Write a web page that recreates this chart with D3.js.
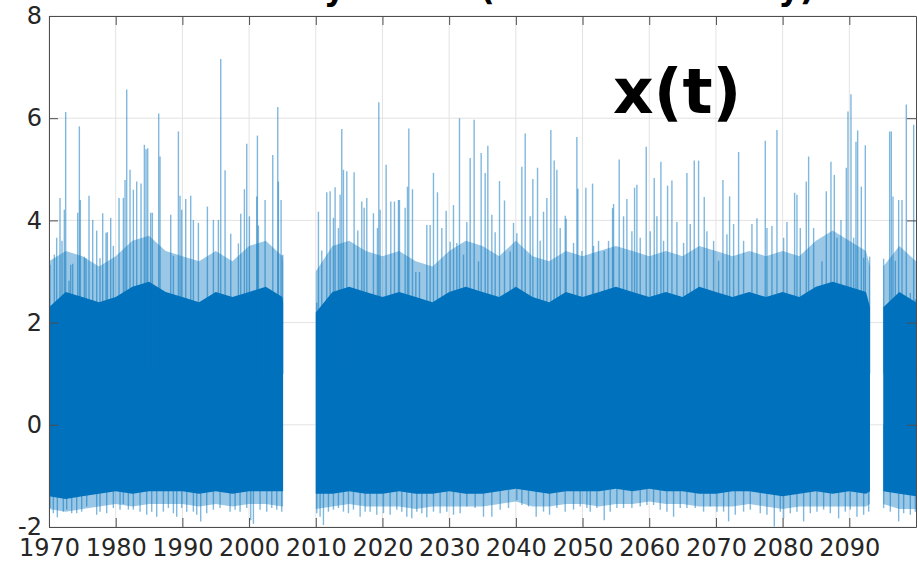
<!DOCTYPE html>
<html>
<head>
<meta charset="utf-8">
<script src="https://cdn.jsdelivr.net/npm/d3@7"></script>
<style>
  html, body { margin: 0; padding: 0; background: #fff; }
  svg { display: block; font-family: "DejaVu Sans", sans-serif; }
</style>
</head>
<body>
<svg id="chart" width="918" height="561"></svg>
<script>
// data segments (years with observations)
const segStart = [1970, 2010, 2095.1];
const segEnd = [2005.1, 2093.1, 2100];

// dense body of the series, read every 2.5 years
const bandYears = [1970, 1972.5, 1975, 1977.5, 1980, 1982.5, 1985, 1987.5, 1990, 1992.5, 1995, 1997.5, 2000, 2002.5, 2005, 2005.1,
  2010, 2012.5, 2015, 2017.5, 2020, 2022.5, 2025, 2027.5, 2030, 2032.5, 2035, 2037.5, 2040, 2042.5, 2045, 2047.5,
  2050, 2052.5, 2055, 2057.5, 2060, 2062.5, 2065, 2067.5, 2070, 2072.5, 2075, 2077.5, 2080, 2082.5, 2085, 2087.5,
  2090, 2092.5, 2093.1,
  2095.1, 2097.5, 2100];
const bandTop = [2.3, 2.6, 2.5, 2.4, 2.5, 2.7, 2.8, 2.6, 2.5, 2.4, 2.6, 2.5, 2.6, 2.7, 2.5, 2.4,
  2.2, 2.6, 2.7, 2.6, 2.5, 2.6, 2.5, 2.4, 2.6, 2.7, 2.6, 2.5, 2.7, 2.5, 2.4, 2.6,
  2.5, 2.6, 2.7, 2.6, 2.5, 2.6, 2.5, 2.7, 2.6, 2.5, 2.6, 2.5, 2.6, 2.5, 2.7, 2.8,
  2.7, 2.6, 2.3,
  2.3, 2.6, 2.4];
const fringeTop = [3.2, 3.4, 3.3, 3.1, 3.3, 3.6, 3.7, 3.4, 3.3, 3.2, 3.4, 3.2, 3.5, 3.6, 3.3, 3.2,
  3.0, 3.5, 3.6, 3.4, 3.3, 3.4, 3.2, 3.1, 3.4, 3.6, 3.5, 3.3, 3.6, 3.3, 3.2, 3.4,
  3.3, 3.4, 3.5, 3.4, 3.3, 3.4, 3.3, 3.5, 3.4, 3.3, 3.4, 3.3, 3.4, 3.3, 3.6, 3.8,
  3.6, 3.4, 3.1,
  3.1, 3.5, 3.2];
const bandBottom = [-1.4, -1.45, -1.4, -1.35, -1.3, -1.35, -1.3, -1.3, -1.3, -1.35, -1.3, -1.35, -1.3, -1.3, -1.3, -1.3,
  -1.35, -1.35, -1.3, -1.35, -1.35, -1.3, -1.35, -1.35, -1.3, -1.35, -1.35, -1.3, -1.25, -1.3, -1.35, -1.3,
  -1.3, -1.3, -1.25, -1.3, -1.25, -1.3, -1.3, -1.35, -1.35, -1.3, -1.3, -1.35, -1.4, -1.35, -1.3, -1.35,
  -1.3, -1.35, -1.3,
  -1.3, -1.35, -1.4];
const fringeBottom = [-1.65, -1.7, -1.65, -1.6, -1.55, -1.6, -1.55, -1.55, -1.55, -1.6, -1.55, -1.6, -1.55, -1.55, -1.6, -1.6,
  -1.65, -1.6, -1.55, -1.6, -1.6, -1.6, -1.65, -1.6, -1.6, -1.6, -1.6, -1.55, -1.5, -1.6, -1.6, -1.55,
  -1.55, -1.6, -1.55, -1.55, -1.5, -1.55, -1.55, -1.6, -1.6, -1.6, -1.55, -1.6, -1.65, -1.6, -1.6, -1.6,
  -1.6, -1.6, -1.55,
  -1.55, -1.65, -1.65];

// upward extremes
const peakYears = [1970.15, 1970.8, 1971.15, 1971.65, 1971.95, 1972.3, 1972.5, 1973.0, 1973.25, 1973.55,
  1974.3, 1974.55, 1974.7, 1975.3, 1975.55, 1976.0, 1976.55, 1977.15, 1977.65, 1978.05,
  1978.55, 1978.75, 1979.25, 1979.65, 1980.5, 1981.15, 1981.4, 1981.65, 1982.15, 1982.65,
  1983.15, 1983.8, 1984.3, 1984.55, 1984.8, 1985.25, 1985.5, 1986.45, 1986.65, 1988.25,
  1988.65, 1989.4, 1989.65, 1989.9, 1990.5, 1991.25, 1991.65, 1992.4, 1993.75, 1994.65,
  1995.4, 1995.75, 1996.4, 1997.25, 1998.4, 1998.75, 1999.3, 1999.65, 2000.05, 2001.15,
  2001.25, 2001.4, 2002.4, 2003.55, 2004.3, 2004.4, 2004.8, 2005.05,
  2010.15, 2010.4, 2010.9, 2011.65, 2012.15, 2012.65, 2012.9, 2013.4, 2013.65, 2013.9,
  2014.15, 2014.65, 2015.75, 2016.3, 2016.9, 2017.25, 2017.65, 2018.65, 2019.25, 2019.45,
  2019.65, 2020.55, 2021.25, 2021.8, 2022.4, 2022.55, 2023.4, 2023.75, 2023.95, 2024.5,
  2025.0, 2025.55, 2026.65, 2027.15, 2027.65, 2028.25, 2028.9, 2029.55, 2030.15, 2030.65,
  2031.15, 2031.55, 2032.15, 2032.65, 2033.15, 2033.75, 2034.4, 2034.8, 2035.4, 2035.8,
  2036.4, 2036.9, 2037.55, 2038.3, 2039.15, 2039.65, 2040.15, 2040.9, 2041.4, 2042.15,
  2042.55, 2043.25, 2043.65, 2044.15, 2044.65, 2045.25, 2045.75, 2046.15, 2046.65, 2047.4,
  2047.55, 2048.65, 2049.15, 2049.3, 2049.9, 2050.5, 2051.5, 2051.65, 2052.4, 2053.25,
  2053.9, 2054.5, 2054.65, 2055.5, 2056.15, 2056.65, 2057.4, 2057.8, 2058.15, 2058.65,
  2059.55, 2060.15, 2060.75, 2061.15, 2061.75, 2062.15, 2062.75, 2063.4, 2064.15, 2065.15,
  2065.65, 2066.15, 2066.75, 2067.4, 2068.25, 2068.65, 2069.65, 2070.4, 2071.05, 2071.65,
  2072.05, 2072.65, 2073.4, 2074.15, 2075.4, 2076.15, 2077.4, 2077.65, 2078.4, 2079.15,
  2080.15, 2080.65, 2081.8, 2082.15, 2082.65, 2083.55, 2083.9, 2084.65, 2085.9, 2086.55,
  2087.25, 2087.75, 2088.15, 2088.75, 2089.55, 2089.8, 2090.25, 2090.65, 2091.0, 2091.25,
  2091.8, 2092.15, 2092.4, 2093.05,
  2095.15, 2096.05, 2096.3, 2096.55, 2096.9, 2097.4, 2097.9, 2098.55, 2099.15, 2099.65, 2099.9];
const peakValues = [3.13, 3.33, 3.66, 4.44, 3.6, 4.21, 6.12, 2.82, 3.13, 3.15,
  4.15, 5.84, 4.4, 3.29, 3.26, 4.48, 4.01, 3.8, 3.26, 4.14,
  3.76, 3.77, 4.05, 3.5, 4.44, 4.44, 4.79, 6.56, 4.99, 4.6,
  4.76, 4.72, 5.48, 5.39, 5.41, 4.15, 4.15, 6.09, 5.25, 4.11,
  3.31, 5.74, 4.48, 4.21, 4.42, 4.48, 4.01, 3.95, 4.27, 4.01,
  4.01, 7.16, 4.98, 3.74, 3.55, 4.13, 4.61, 5.5, 4.08, 4.47,
  5.66, 3.9, 4.4, 5.28, 6.22, 4.76, 4.4, 3.33,
  2.39, 4.17, 3.41, 4.55, 4.57, 4.05, 4.65, 3.85, 4.5, 5.79,
  4.99, 4.96, 4.94, 3.8, 4.37, 4.25, 4.44, 4.14, 3.85, 6.31,
  4.21, 5.09, 4.37, 4.37, 4.4, 4.4, 4.25, 4.66, 5.8, 4.61,
  2.99, 2.99, 3.91, 3.91, 4.93, 4.55, 3.85, 4.19, 3.58, 4.3,
  3.56, 6.0, 3.33, 3.97, 5.22, 5.97, 3.2, 5.32, 4.93, 5.46,
  4.11, 3.77, 4.77, 4.39, 3.39, 3.95, 3.75, 5.05, 5.7, 4.08,
  4.81, 5.03, 3.6, 4.17, 4.44, 5.77, 5.17, 4.99, 3.85, 4.09,
  4.03, 3.56, 5.63, 4.62, 3.4, 4.64, 4.72, 3.5, 3.6, 3.4,
  3.6, 4.24, 4.32, 5.19, 4.08, 4.42, 3.79, 4.64, 4.7, 3.66,
  5.44, 3.79, 4.83, 4.08, 5.15, 3.6, 4.68, 4.78, 3.97, 3.56,
  4.93, 3.93, 5.17, 5.17, 4.46, 3.79, 3.6, 3.21, 4.79, 3.73,
  4.47, 3.93, 5.34, 3.6, 3.93, 4.04, 5.56, 3.85, 3.89, 5.77,
  3.66, 3.97, 4.54, 4.5, 3.85, 4.76, 5.25, 3.85, 3.2, 4.57,
  5.15, 4.89, 3.66, 4.01, 5.03, 6.13, 6.47, 3.66, 5.54, 5.76,
  4.66, 3.27, 5.47, 3.29,
  3.25, 5.74, 5.74, 4.47, 3.21, 4.4, 4.4, 6.27, 2.58, 5.87, 2.45];

// downward extremes
const dipYears = [1970.15, 1970.65, 1971.25, 1972.15, 1972.65, 1973.4, 1974.15, 1974.9, 1975.65, 1977.15,
  1977.65, 1978.65, 1979.65, 1980.65, 1981.15, 1981.9, 1982.65, 1983.65, 1984.65, 1985.4,
  1986.15, 1987.15, 1987.9, 1988.65, 1989.15, 1989.9, 1990.65, 1991.65, 1992.15, 1992.75,
  1993.65, 1994.65, 1995.65, 1997.15, 1997.9, 1998.65, 1999.65, 2000.25, 2000.65, 2001.65,
  2002.65, 2003.4, 2004.15, 2004.9,
  2010.15, 2010.65, 2011.15, 2011.9, 2012.65, 2013.4, 2014.15, 2014.9, 2015.65, 2016.65,
  2017.4, 2018.15, 2019.15, 2020.15, 2021.15, 2022.15, 2022.9, 2023.65, 2024.4, 2025.15,
  2025.9, 2026.65, 2027.65, 2028.65, 2029.65, 2030.65, 2031.65, 2032.65, 2033.9, 2035.15,
  2036.4, 2037.65, 2038.9, 2040.15, 2040.9, 2041.9, 2043.05, 2044.15, 2045.05, 2046.15,
  2047.4, 2048.65, 2049.65, 2050.65, 2051.15, 2052.15, 2053.25, 2054.15, 2055.15, 2056.15,
  2057.4, 2058.65, 2059.65, 2060.65, 2061.65, 2062.65, 2063.65, 2064.65, 2065.65, 2066.9,
  2068.15, 2069.15, 2070.15, 2071.15, 2071.9, 2072.9, 2074.15, 2075.15, 2076.65, 2077.65,
  2078.75, 2079.65, 2080.15, 2081.15, 2082.15, 2083.15, 2084.15, 2085.15, 2086.15, 2087.15,
  2088.4, 2089.4, 2090.15, 2091.15, 2092.15, 2092.9,
  2095.15, 2096.15, 2097.4, 2098.15, 2099.15, 2099.9];
const dipValues = [-1.63, -1.73, -1.81, -1.7, -1.66, -1.73, -1.73, -1.7, -1.6, -1.76,
  -1.7, -1.73, -1.63, -1.66, -1.55, -1.66, -1.66, -1.7, -1.76, -1.7,
  -1.8, -1.7, -1.63, -1.73, -1.8, -1.63, -1.7, -1.7, -1.76, -1.89,
  -1.73, -1.66, -1.63, -1.7, -1.66, -1.7, -1.63, -1.87, -1.94, -1.66,
  -1.7, -1.63, -1.66, -1.7,
  -1.73, -1.8, -1.96, -1.7, -1.66, -1.63, -1.7, -1.73, -1.66, -1.8,
  -1.7, -1.7, -1.76, -1.73, -1.76, -1.66, -1.7, -1.8, -1.83, -1.7,
  -1.73, -1.81, -1.7, -1.73, -1.7, -1.76, -1.73, -1.6, -1.63, -1.8,
  -1.8, -1.66, -1.63, -1.47, -1.57, -1.6, -1.8, -1.7, -1.76, -1.63,
  -1.7, -1.66, -1.6, -1.63, -1.7, -1.63, -1.87, -1.7, -1.63, -1.63,
  -1.63, -1.6, -1.57, -1.57, -1.66, -1.7, -1.8, -1.63, -1.63, -1.63,
  -1.7, -1.6, -1.7, -1.7, -1.89, -1.76, -1.7, -1.66, -1.73, -1.76,
  -1.99, -1.7, -1.83, -1.73, -1.7, -1.89, -1.73, -1.7, -1.66, -1.73,
  -1.83, -1.7, -1.66, -1.8, -1.76, -1.7,
  -1.63, -1.7, -1.89, -1.73, -1.76, -1.7];

const xTicks = [1970, 1980, 1990, 2000, 2010, 2020, 2030, 2040, 2050, 2060, 2070, 2080, 2090];
const yTicks = [-2, 0, 2, 4, 6, 8];

const svg = d3.select('#chart');
const margin = { top: 16, right: 2, bottom: 34, left: 49 };
const width = +svg.attr('width') - margin.left - margin.right;
const height = +svg.attr('height') - margin.top - margin.bottom;
const g = svg.append('g').attr('transform', `translate(${margin.left},${margin.top})`);

const x = d3.scaleLinear().domain([1970, 2100]).range([0, width]);
const y = d3.scaleLinear().domain([-2, 8]).range([height, 0]);

const blue = '#0072BD';
const axisColor = '#4d4d4d';
const textColor = '#262626';

svg.append('defs').append('clipPath').attr('id', 'plot-clip')
  .append('rect').attr('width', width).attr('height', height);

// grid
g.append('g').selectAll('line').data(xTicks).join('line')
  .attr('x1', d => x(d)).attr('x2', d => x(d))
  .attr('y1', 0).attr('y2', height)
  .attr('stroke', '#e3e3e3').attr('stroke-width', 1);
g.append('g').selectAll('line').data(yTicks).join('line')
  .attr('x1', 0).attr('x2', width)
  .attr('y1', d => y(d)).attr('y2', d => y(d))
  .attr('stroke', '#e3e3e3').attr('stroke-width', 1);

const plot = g.append('g').attr('clip-path', 'url(#plot-clip)');

const band = bandYears.map((t, i) => ({
  t, top: bandTop[i], bottom: bandBottom[i], ftop: fringeTop[i], fbottom: fringeBottom[i]
}));

segStart.forEach((s, k) => {
  const e = segEnd[k];
  const pts = band.filter(d => d.t >= s && d.t <= e);
  // light fringe
  plot.append('path').datum(pts)
    .attr('fill', blue).attr('fill-opacity', 0.4)
    .attr('d', d3.area().x(d => x(d.t)).y0(d => y(d.fbottom)).y1(d => y(d.ftop)));
  // solid body
  plot.append('path').datum(pts)
    .attr('fill', blue)
    .attr('d', d3.area().x(d => x(d.t)).y0(d => y(d.bottom)).y1(d => y(d.top)));
});

const peaks = peakYears.map((t, i) => ({ t, v: peakValues[i] }));
const dips = dipYears.map((t, i) => ({ t, v: dipValues[i] }));

plot.append('g').selectAll('line').data(peaks).join('line')
  .attr('x1', d => x(d.t)).attr('x2', d => x(d.t))
  .attr('y1', y(1)).attr('y2', d => y(d.v))
  .attr('stroke', blue).attr('stroke-opacity', 0.5).attr('stroke-width', 1.4);

plot.append('g').selectAll('line').data(dips).join('line')
  .attr('x1', d => x(d.t)).attr('x2', d => x(d.t))
  .attr('y1', y(0)).attr('y2', d => y(d.v))
  .attr('stroke', blue).attr('stroke-opacity', 0.5).attr('stroke-width', 1.4);

// axes (MATLAB style: box, inward ticks on all sides)
const tickLen = 9;
const xb = g.append('g').attr('transform', `translate(0,${height})`)
  .call(d3.axisBottom(x).tickValues(xTicks).tickFormat(d => String(d)).tickSizeInner(-tickLen).tickSizeOuter(0).tickPadding(12));
const xt = g.append('g')
  .call(d3.axisTop(x).tickValues(xTicks).tickFormat('').tickSizeInner(-tickLen).tickSizeOuter(0));
const yl = g.append('g')
  .call(d3.axisLeft(y).tickValues(yTicks).tickFormat(d => String(d)).tickSizeInner(-tickLen).tickSizeOuter(0).tickPadding(7));
const yr = g.append('g').attr('transform', `translate(${width},0)`)
  .call(d3.axisRight(y).tickValues(yTicks).tickFormat('').tickSizeInner(-tickLen).tickSizeOuter(0));

[xb, xt, yl, yr].forEach(a => {
  a.select('.domain').attr('stroke', axisColor);
  a.selectAll('.tick line').attr('stroke', axisColor);
  a.selectAll('.tick text').attr('fill', textColor)
    .style('font-family', '"DejaVu Sans", sans-serif').style('font-size', '24px');
});

// title (mostly above the visible area)
svg.append('text')
  .attr('x', margin.left + width / 2).attr('y', 0)
  .attr('text-anchor', 'middle')
  .style('font-size', '33px').style('font-weight', 'bold')
  .attr('fill', '#000')
  .text('Stationary series (white noise only)');

g.append('text')
  .attr('x', 564).attr('y', 97)
  .style('font-size', '63px').style('font-weight', 'bold')
  .attr('fill', '#000')
  .text('x(t)');
</script>
</body>
</html>
